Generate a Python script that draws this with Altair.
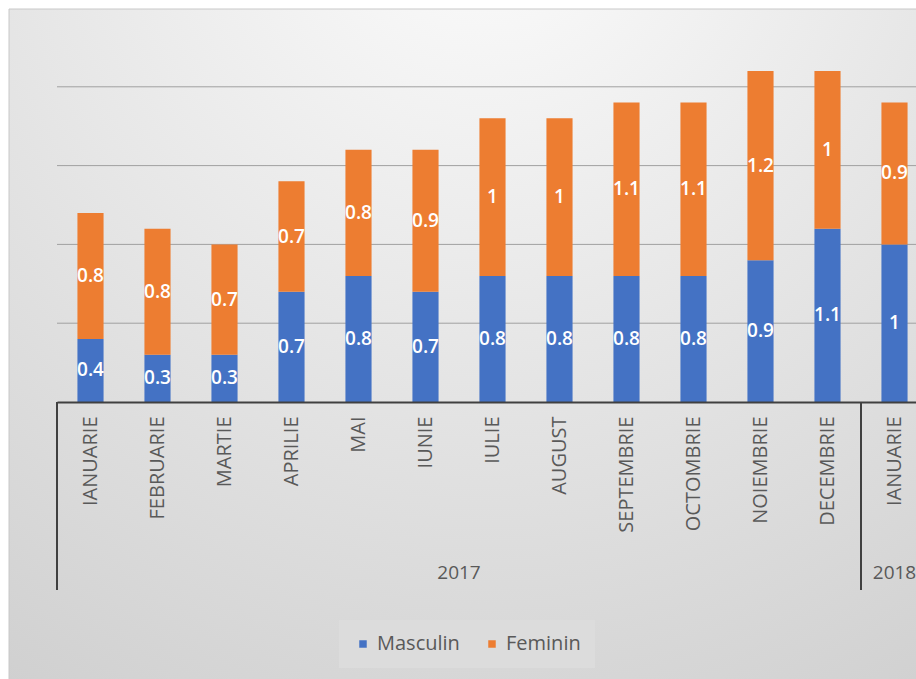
import altair as alt
import pandas as pd

# ---- data ----
months = ["IANUARIE", "FEBRUARIE", "MARTIE", "APRILIE", "MAI", "IUNIE", "IULIE",
          "AUGUST", "SEPTEMBRIE", "OCTOMBRIE", "NOIEMBRIE", "DECEMBRIE", "IANUARIE"]
years = ["2017", "2017", "2017", "2017", "2017", "2017", "2017",
         "2017", "2017", "2017", "2017", "2017", "2018"]
masculin = [0.4, 0.3, 0.3, 0.7, 0.8, 0.7, 0.8, 0.8, 0.8, 0.8, 0.9, 1.1, 1.0]
feminin = [0.8, 0.8, 0.7, 0.7, 0.8, 0.9, 1.0, 1.0, 1.1, 1.1, 1.2, 1.0, 0.9]
series = ["Masculin", "Feminin"]
colors = ["#4472C4", "#ED7D31"]
grid_values = [0.5, 1.0, 1.5, 2.0]

# ---- tables ----
keys = [f"{i:02d}|{m}" for i, m in enumerate(months)]
rows = []
for i, k in enumerate(keys):
    rows.append({"key": k, "serie": series[0], "order": 0, "value": masculin[i]})
    rows.append({"key": k, "serie": series[1], "order": 1, "value": feminin[i]})
df = pd.DataFrame(rows)

groups = []
for y in dict.fromkeys(years):
    idx = [i for i, v in enumerate(years) if v == y]
    groups.append({"year": y, "start": idx[0], "end": idx[-1] + 1,
                   "mid": (idx[0] + idx[-1] + 1) / 2})
gdf = pd.DataFrame(groups)
bounds = pd.DataFrame({"b": sorted(set(gdf["start"]) | set(gdf["end"]))})

FONT = "Open Sans"
TXT = "#595959"
RANGE_W = 871

x_band = alt.Scale(domain=keys, range=[0, RANGE_W], paddingInner=0.61, paddingOuter=0.305)
x_idx = alt.Scale(domain=[0, len(months)], range=[0, RANGE_W])
y_scale = alt.Scale(domain=[0, 2.5], nice=False, zero=True)

bg = alt.Chart(pd.DataFrame({"a": [0]})).mark_rect(
    fill={"gradient": "radial", "x1": 0.5, "y1": 0.0, "r1": 0.0,
          "x2": 0.5, "y2": 0.0, "r2": 1.0,
          "stops": [{"offset": 0, "color": "#fdfdfd"},
                    {"offset": 0.5, "color": "#e6e6e6"},
                    {"offset": 1, "color": "#cfcfcf"}]},
    stroke="#c8c8c8", strokeWidth=1,
).encode(x=alt.value(-48), x2=alt.value(900), y=alt.value(1), y2=alt.value(700))

grid = alt.Chart(pd.DataFrame({"g": grid_values})).mark_rule(
    color="#a0a0a0", strokeWidth=1
).encode(y=alt.Y("g:Q", scale=y_scale, axis=None), x=alt.value(0), x2=alt.value(880))

bars = alt.Chart(df).mark_bar().encode(
    x=alt.X("key:N", scale=x_band, sort=keys,
            axis=alt.Axis(title=None, labelExpr="split(datum.label, '|')[1]",
                          labelAngle=-90, labelFont=FONT, labelFontSize=20,
                          labelColor=TXT, labelPadding=14, ticks=False, tickSize=0,
                          domainColor="#404040", domainWidth=2, grid=False,
                          zindex=1, labelLimit=300, labelOverlap=False)),
    y=alt.Y("value:Q", stack="zero", scale=y_scale, axis=None),
    color=alt.Color("serie:N", scale=alt.Scale(domain=series, range=colors),
                    legend=alt.Legend(title=None, orient="none", legendX=282, legendY=612,
                                      direction="horizontal", symbolType="square",
                                      symbolSize=56, symbolStrokeWidth=0,
                                      labelFont=FONT, labelFontSize=20, labelColor=TXT,
                                      labelOffset=4, columnPadding=22, padding=14,
                                      fillColor="#dcdcdc")),
    order=alt.Order("order:Q", sort="ascending"),
)

labels = alt.Chart(df).transform_stack(
    stack="value", groupby=["key"], sort=[alt.SortField("order", "ascending")],
    as_=["v0", "v1"],
).transform_calculate(mid="(datum.v0 + datum.v1) / 2").mark_text(
    color="white", fontSize=19, font=FONT, fontWeight=600, baseline="middle", align="center"
).encode(
    x=alt.X("key:N", scale=x_band, sort=keys, axis=None),
    y=alt.Y("mid:Q", scale=y_scale, axis=None),
    text=alt.Text("value:Q", format=".1~f"),
)

seps = alt.Chart(bounds).mark_rule(color="#404040", strokeWidth=2).encode(
    x=alt.X("b:Q", scale=x_idx, axis=None), y=alt.value(394), y2=alt.value(582)
)

yrs = alt.Chart(gdf).mark_text(font=FONT, fontSize=19, color=TXT, baseline="middle",
                               align="center").encode(
    x=alt.X("mid:Q", scale=x_idx, axis=None), y=alt.value(565), text="year:N"
)

chart = alt.layer(bg, grid, bars, labels, seps, yrs).resolve_scale(
    x="independent"
).properties(
    width=859, height=394,
    autosize=alt.AutoSizeParams(type="none"),
    padding={"left": 57, "top": 8, "right": 0, "bottom": 277},
    background="white",
).configure_view(stroke=None)

chart.save("out.html", embed_options={"renderer": "svg", "actions": False})
